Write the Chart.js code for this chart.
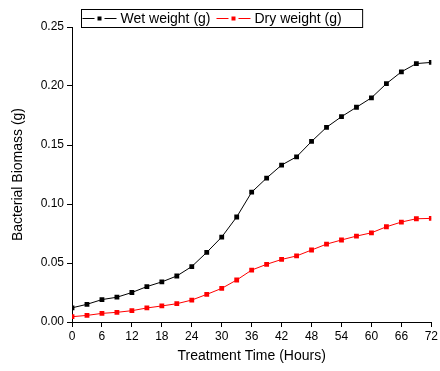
<!DOCTYPE html>
<html>
<head>
<meta charset="utf-8">
<script src="https://cdn.jsdelivr.net/npm/chart.js@4/dist/chart.umd.min.js"></script>
<style>
  html, body { margin: 0; padding: 0; background: #fff; }
  #wrap { width: 440px; height: 371px; }
</style>
</head>
<body>
<div id="wrap"><canvas id="chart" width="440" height="371"></canvas></div>
<script>
// hours sampled every 3 h
const hours = [0, 3, 6, 9, 12, 15, 18, 21, 24, 27, 30, 33, 36, 39, 42, 45, 48, 51, 54, 57, 60, 63, 66, 69, 72];
const wetWeight = [0.012, 0.015, 0.019, 0.021, 0.025, 0.030, 0.034, 0.039, 0.047, 0.059, 0.072, 0.089,
  0.110, 0.122, 0.133, 0.140, 0.153, 0.165, 0.174, 0.182, 0.190, 0.202, 0.212, 0.219, 0.220];
const dryWeight = [0.0045, 0.0056, 0.0073, 0.0082, 0.0096, 0.0119, 0.0136, 0.0155, 0.0186, 0.0234, 0.0285, 0.0356,
  0.044, 0.0489, 0.053, 0.056, 0.061, 0.066, 0.0695, 0.0728, 0.0756, 0.0807, 0.0847, 0.0875, 0.0878];
const seriesLabels = ['Wet weight (g)', 'Dry weight (g)'];
const seriesColors = ['#000000', '#ff0000'];

const FONT = 'Arial, "Liberation Sans", sans-serif';

function toPoints(ys) {
  return hours.map((h, i) => ({ x: h, y: ys[i] }));
}

// boxed legend with line + square marker samples
const boxLegend = {
  id: 'boxLegend',
  afterDraw(chart) {
    const ctx = chart.ctx;
    const top = 9.5, bottom = 27.5, left = 81.5;
    const midY = 18.5;
    ctx.save();
    ctx.font = '14px ' + FONT;
    ctx.textBaseline = 'middle';
    let x = left + 1;
    chart.data.datasets.forEach(ds => {
      const c = ds.borderColor;
      ctx.strokeStyle = c;
      ctx.lineWidth = 1;
      ctx.beginPath();
      ctx.moveTo(x, midY); ctx.lineTo(x + 12, midY);
      ctx.moveTo(x + 22, midY); ctx.lineTo(x + 34, midY);
      ctx.stroke();
      ctx.fillStyle = c;
      ctx.fillRect(x + 15, midY - 2, 4, 4);
      ctx.fillStyle = '#000';
      ctx.fillText(ds.label, x + 38, midY + 1);
      x += 38 + ctx.measureText(ds.label).width + 6;
    });
    ctx.strokeStyle = '#000';
    ctx.lineWidth = 1;
    ctx.strokeRect(left, top, x - left + 15, bottom - top);
    ctx.restore();
  }
};

const ctx = document.getElementById('chart').getContext('2d');
const chart = new Chart(ctx, {
  type: 'line',
  data: {
    datasets: [
      { label: seriesLabels[0], data: toPoints(wetWeight), borderColor: seriesColors[0], backgroundColor: seriesColors[0],
        borderWidth: 1, pointStyle: 'rect', pointRadius: 3.4, pointBorderWidth: 0, tension: 0 },
      { label: seriesLabels[1], data: toPoints(dryWeight), borderColor: seriesColors[1], backgroundColor: seriesColors[1],
        borderWidth: 1, pointStyle: 'rect', pointRadius: 3.4, pointBorderWidth: 0, tension: 0 }
    ]
  },
  options: {
    responsive: false,
    animation: false,
    layout: { padding: { left: 0, right: 8, top: 27, bottom: 0 } },
    plugins: { legend: { display: false }, tooltip: { enabled: false } },
    scales: {
      x: {
        type: 'linear', min: 0, max: 72,
        afterFit: s => { s.height = 49; },
        ticks: { stepSize: 6, color: '#000', font: { family: FONT, size: 12 }, padding: 2, maxRotation: 0 },
        grid: { drawOnChartArea: false, drawTicks: true, tickLength: 5, color: '#000' },
        border: { display: true, color: '#000', width: 1 },
        title: { display: true, text: 'Treatment Time (Hours)', color: '#000', font: { family: FONT, size: 14 }, padding: { top: 0, bottom: 6 } }
      },
      y: {
        min: 0, max: 0.25,
        afterFit: s => { s.width = 72; },
        ticks: { stepSize: 0.05, color: '#000', font: { family: FONT, size: 12 }, padding: 3, callback: v => v.toFixed(2) },
        grid: { drawOnChartArea: false, drawTicks: true, tickLength: 5, color: '#000' },
        border: { display: true, color: '#000', width: 1 },
        title: { display: true, text: 'Bacterial Biomass (g)', color: '#000', font: { family: FONT, size: 14 }, padding: { top: 10, bottom: 0 } }
      }
    }
  },
  plugins: [boxLegend]
});
</script>
</body>
</html>
